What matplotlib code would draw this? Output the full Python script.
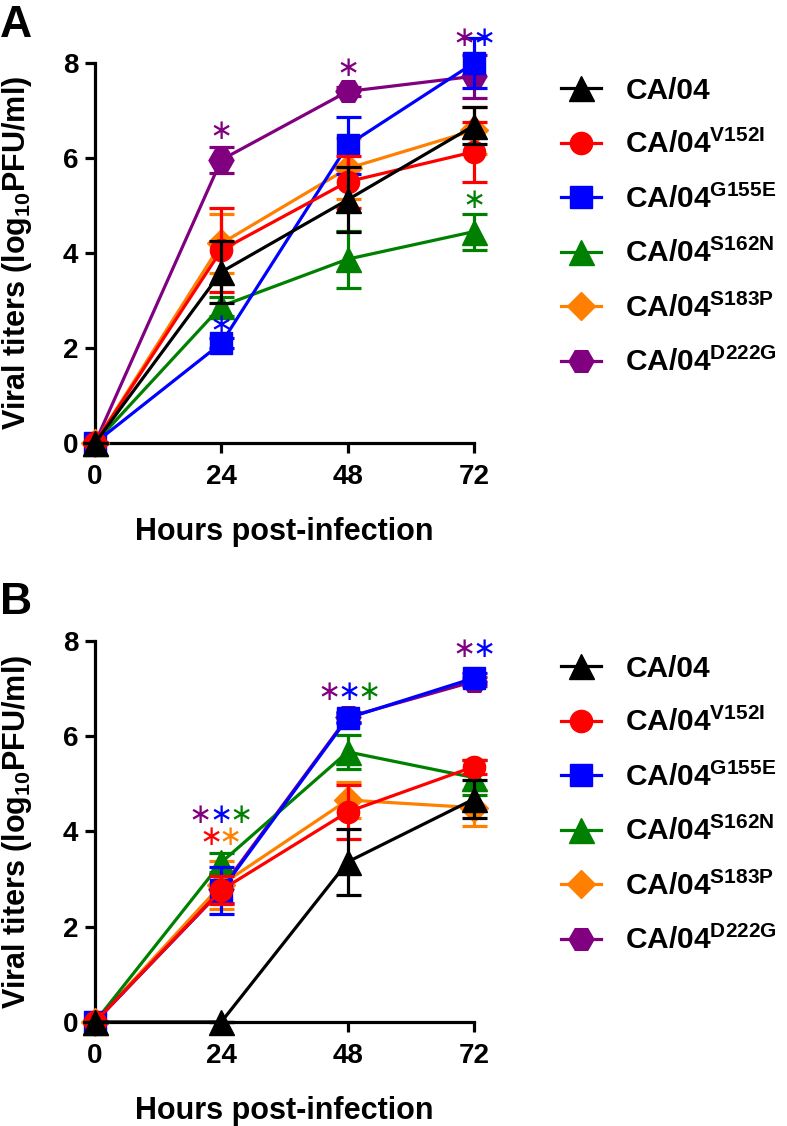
import numpy as np
import matplotlib
matplotlib.use("Agg")
import matplotlib.pyplot as plt

plt.rcParams['font.family'] = 'Liberation Sans'
plt.rcParams['font.weight'] = 'bold'
plt.rcParams['axes.labelweight'] = 'bold'
plt.rcParams['mathtext.fontset'] = 'custom'
plt.rcParams['mathtext.rm'] = 'Liberation Sans:bold'
plt.rcParams['mathtext.bf'] = 'Liberation Sans:bold'
plt.rcParams['mathtext.it'] = 'Liberation Sans:bold'
plt.rcParams['mathtext.default'] = 'rm'

hours = [0, 24, 48, 72]
names = ['CA/04', 'CA/04$^{V152I}$', 'CA/04$^{G155E}$',
         'CA/04$^{S162N}$', 'CA/04$^{S183P}$', 'CA/04$^{D222G}$']
colors = ['black', '#ff0000', '#0000ff', '#008000', '#ff8000', '#800080']
markers = ['^', 'o', 's', '^', 'D', 'H']
msizes = [18, 16, 16.5, 18, 14, 18]

# panel A : mean / sd (log10 PFU/ml)
mean_a = [
    [0, 3.60, 5.12, 6.68],   # CA/04
    [0, 4.06, 5.50, 6.13],   # V152I
    [0, 2.10, 6.27, 8.00],   # G155E
    [0, 2.88, 3.87, 4.45],   # S162N
    [0, 4.20, 5.78, 6.58],   # S183P
    [0, 5.96, 7.40, 7.72],   # D222G
]
sd_a = [
    [0, 0.66, 0.68, 0.39],
    [0, 0.88, 0.55, 0.63],
    [0, 0.10, 0.60, 0.53],
    [0, 0.20, 0.60, 0.38],
    [0, 0.63, 0.65, 0.50],
    [0, 0.27, 0.10, 0.45],
]
# panel B
mean_b = [
    [0, 0.00, 3.36, 4.68],
    [0, 2.77, 4.41, 5.36],
    [0, 2.76, 6.38, 7.22],
    [0, 3.35, 5.67, 5.13],
    [0, 2.88, 4.66, 4.50],
    [0, 2.80, 6.40, 7.15],
]
sd_b = [
    [0, 0.00, 0.70, 0.40],
    [0, 0.30, 0.57, 0.15],
    [0, 0.50, 0.10, 0.10],
    [0, 0.20, 0.35, 0.37],
    [0, 0.50, 0.37, 0.38],
    [0, 0.30, 0.10, 0.10],
]

# significance asterisks: (x, y, series index)
stars_a = [(24, 6.57, 5), (24, 2.48, 2), (48, 7.9, 5),
           (70.1, 8.53, 5), (73.9, 8.53, 2), (72, 5.12, 3)]
stars_b = [(20.0, 4.35, 5), (23.9, 4.35, 2), (27.7, 4.35, 3),
           (22.1, 3.89, 1), (25.7, 3.89, 4),
           (44.4, 6.93, 5), (48.2, 6.93, 2), (52.0, 6.93, 3),
           (70.1, 7.82, 5), (73.9, 7.82, 2)]

fig = plt.figure(figsize=(7.87, 11.26), dpi=100)
ax_a = fig.add_axes([0.1207, 0.6066, 0.4816, 0.3375])
ax_b = fig.add_axes([0.1207, 0.0924, 0.4816, 0.3384])

draw_order = [5, 4, 3, 2, 1, 0]


def panel(ax, means, sds, stars, leg_top):
    handles = [None] * 6
    for z, i in enumerate(draw_order):
        ax.errorbar(hours, means[i], yerr=sds[i], fmt='none', ecolor=colors[i],
                    elinewidth=2.3, capsize=9, capthick=2.3, clip_on=False,
                    zorder=3 + z)
        ln, = ax.plot(hours, means[i], color=colors[i], lw=2.3, marker=markers[i],
                      ms=msizes[i], mec=colors[i], clip_on=False, zorder=3 + z)
        handles[i] = ln
    for x, y, i in stars:
        ax.text(x, y, '\u2217', color=colors[i], ha='center', va='center',
                fontsize=20, fontweight='normal', family='DejaVu Sans',
                clip_on=False, zorder=20)
    ax.set_xlim(0, 72)
    ax.set_ylim(0, 8)
    ax.set_xticks(hours)
    ax.set_yticks([0, 2, 4, 6, 8])
    for s in ['top', 'right']:
        ax.spines[s].set_visible(False)
    for s in ['left', 'bottom']:
        ax.spines[s].set_linewidth(2.3)
    ax.tick_params(width=2.3, length=7, labelsize=20)
    ax.tick_params(axis='x', pad=8)
    ax.tick_params(axis='y', pad=5)
    ax.set_xlabel('Hours post-infection', fontsize=22)
    ax.set_ylabel('Viral titers (log$_{10}$PFU/ml)', fontsize=22)
    ax.xaxis.set_label_coords(0.5, -0.195)
    ax.yaxis.set_label_coords(-0.16, 0.5)
    ax.legend(handles, names, loc='upper left', bbox_to_anchor=(0.713, leg_top),
              bbox_transform=fig.transFigure, frameon=False, fontsize=21.5,
              handlelength=1.35, handletextpad=0.8, labelspacing=0.85,
              borderpad=0, borderaxespad=0)


panel(ax_a, mean_a, sd_a, stars_a, 0.932)
panel(ax_b, mean_b, sd_b, stars_b, 0.4187)

fig.text(0.0, 0.996, 'A', fontsize=32, va='top', ha='left')
fig.text(0.0, 0.483, 'B', fontsize=32, va='top', ha='left')

fig.savefig('out.png', dpi=100)
